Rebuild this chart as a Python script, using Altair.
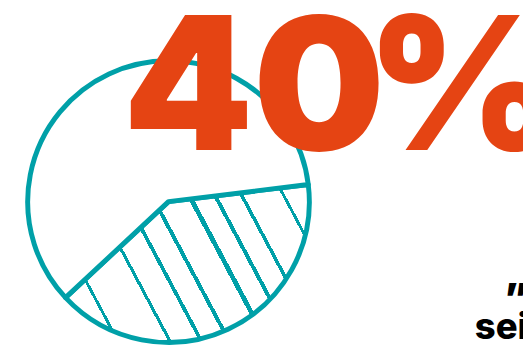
import math
import altair as alt
import pandas as pd

# ---- data ----
slice_labels = ["share", "rest"]
slice_values = [40, 60]
slice_order = [0, 1]
big_number = ["40"]
big_unit = ["%"]
quote_text = ["\u201d"]
sub_text = ["sei"]

TEAL = "#00A0A8"
ORANGE = "#E54413"

W, H = 523, 341
cx, cy, R = 163.0, 194.0, 143.0
start_deg = 83.0
t0 = math.radians(start_deg)

# ---- hatch gradient for the 40% slice (styling) ----
share = slice_values[0] / sum(slice_values)
end_deg = start_deg + 360 * share
pts = [(cx, cy)]
for a in [start_deg, end_deg] + [d for d in (0, 90, 180, 270, 360) if start_deg < d < end_deg]:
    r = math.radians(a)
    pts.append((cx + R * math.sin(r), cy - R * math.cos(r)))
bx0 = min(p[0] for p in pts); bx1 = max(p[0] for p in pts)
by0 = min(p[1] for p in pts); by1 = max(p[1] for p in pts)
BW, BH = bx1 - bx0, by1 - by0
ang = math.radians(62)
a, b = math.sin(ang), -math.cos(ang)  # normal to stripe direction
corners = [(bx0, by0), (bx1, by0), (bx0, by1), (bx1, by1)]
svals = [a * x + b * y for x, y in corners]
s0, s1 = min(svals), max(svals)
c = a * bx0 + b * by0
G = (a * BW, b * BH)
g2 = G[0] ** 2 + G[1] ** 2
P1 = (G[0] * (s0 - c) / g2, G[1] * (s0 - c) / g2)
P2 = (G[0] * (s1 - c) / g2, G[1] * (s1 - c) / g2)
stripe_s = [-55.7, -9.1, 19.1, 44.0, 77.6, 100.8, 124.8, 162.4]
stripe_w = [3.0, 3.2, 3.8, 4.0, 4.8, 4.0, 3.6, 3.0]
stops = [{"offset": 0, "color": "white"}]
for sc, sw in zip(stripe_s, stripe_w):
    scv = sc - a * 8 - b * 8
    o1 = (scv - sw / 2 - s0) / (s1 - s0)
    o2 = (scv + sw / 2 - s0) / (s1 - s0)
    o1 = min(max(o1, 0), 1); o2 = min(max(o2, 0), 1)
    stops += [{"offset": o1, "color": "white"}, {"offset": o1, "color": TEAL},
              {"offset": o2, "color": TEAL}, {"offset": o2, "color": "white"}]
stops.append({"offset": 1, "color": "white"})
grad = {"gradient": "linear", "x1": P1[0], "y1": P1[1], "x2": P2[0], "y2": P2[1], "stops": stops}

pie_df = pd.DataFrame({"label": slice_labels, "value": slice_values, "ord": slice_order})

pie = alt.Chart(pie_df).mark_arc(radius=R, stroke=TEAL, strokeWidth=5, strokeJoin="round").encode(
    theta=alt.Theta("value:Q", stack=True, scale=alt.Scale(range=[t0, t0 + 2 * math.pi])),
    order=alt.Order("ord:Q"),
    x=alt.value(cx),
    y=alt.value(cy),
    fill=alt.condition(alt.datum.label == slice_labels[0], alt.value(grad), alt.value("white")),
)

big_style = dict(font="Inter", fontWeight=900, fontSize=188, color=ORANGE, align="left", baseline="alphabetic")
big1 = alt.Chart(pd.DataFrame({"t": big_number})).mark_text(**big_style).encode(
    text="t:N", x=alt.value(117), y=alt.value(142))
big2 = alt.Chart(pd.DataFrame({"t": big_unit})).mark_text(**big_style).encode(
    text="t:N", x=alt.value(364), y=alt.value(142))

quote = alt.Chart(pd.DataFrame({"t": quote_text})).mark_text(
    font="Inter", fontWeight=900, fontSize=40, color="black", align="left", baseline="alphabetic"
).encode(text="t:N", x=alt.value(504), y=alt.value(306))

sub = alt.Chart(pd.DataFrame({"t": sub_text})).mark_text(
    font="Inter", fontWeight=800, fontSize=37, color="black", align="left", baseline="alphabetic"
).encode(text="t:N", x=alt.value(474), y=alt.value(334))

chart = alt.layer(pie, big1, big2, quote, sub).properties(
    width=W, height=H, autosize=alt.AutoSizeParams(type="none"), padding=0, background="white"
).configure_view(stroke=None)

chart.save("out.html", embed_options={"renderer": "svg", "actions": False})
